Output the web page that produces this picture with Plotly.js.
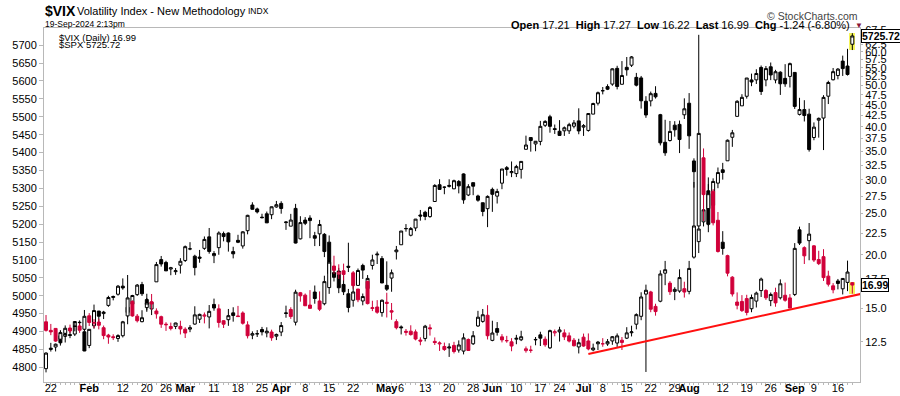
<!DOCTYPE html>
<html><head><meta charset="utf-8">
<script src="https://cdn.plot.ly/plotly-3.0.1.min.js"></script>
<style>html,body{margin:0;padding:0;background:#fff}#chart{width:900px;height:396px}</style>
</head><body><div id="chart"></div>
<script>
// ---- trading days (categories) ----
const dates = [
'2024-01-19','2024-01-22','2024-01-23','2024-01-24','2024-01-25','2024-01-26','2024-01-29','2024-01-30','2024-01-31','2024-02-01',
'2024-02-02','2024-02-05','2024-02-06','2024-02-07','2024-02-08','2024-02-09','2024-02-12','2024-02-13','2024-02-14','2024-02-15',
'2024-02-16','2024-02-20','2024-02-21','2024-02-22','2024-02-23','2024-02-26','2024-02-27','2024-02-28','2024-02-29','2024-03-01',
'2024-03-04','2024-03-05','2024-03-06','2024-03-07','2024-03-08','2024-03-11','2024-03-12','2024-03-13','2024-03-14','2024-03-15',
'2024-03-18','2024-03-19','2024-03-20','2024-03-21','2024-03-22','2024-03-25','2024-03-26','2024-03-27','2024-03-28','2024-04-01',
'2024-04-02','2024-04-03','2024-04-04','2024-04-05','2024-04-08','2024-04-09','2024-04-10','2024-04-11','2024-04-12','2024-04-15',
'2024-04-16','2024-04-17','2024-04-18','2024-04-19','2024-04-22','2024-04-23','2024-04-24','2024-04-25','2024-04-26','2024-04-29',
'2024-04-30','2024-05-01','2024-05-02','2024-05-03','2024-05-06','2024-05-07','2024-05-08','2024-05-09','2024-05-10','2024-05-13',
'2024-05-14','2024-05-15','2024-05-16','2024-05-17','2024-05-20','2024-05-21','2024-05-22','2024-05-23','2024-05-24','2024-05-28',
'2024-05-29','2024-05-30','2024-05-31','2024-06-03','2024-06-04','2024-06-05','2024-06-06','2024-06-07','2024-06-10','2024-06-11',
'2024-06-12','2024-06-13','2024-06-14','2024-06-17','2024-06-18','2024-06-20','2024-06-21','2024-06-24','2024-06-25','2024-06-26',
'2024-06-27','2024-06-28','2024-07-01','2024-07-02','2024-07-03','2024-07-05','2024-07-08','2024-07-09','2024-07-10','2024-07-11',
'2024-07-12','2024-07-15','2024-07-16','2024-07-17','2024-07-18','2024-07-19','2024-07-22','2024-07-23','2024-07-24','2024-07-25',
'2024-07-26','2024-07-29','2024-07-30','2024-07-31','2024-08-01','2024-08-02','2024-08-05','2024-08-06','2024-08-07','2024-08-08',
'2024-08-09','2024-08-12','2024-08-13','2024-08-14','2024-08-15','2024-08-16','2024-08-19','2024-08-20','2024-08-21','2024-08-22',
'2024-08-23','2024-08-26','2024-08-27','2024-08-28','2024-08-29','2024-08-30','2024-09-03','2024-09-04','2024-09-05','2024-09-06',
'2024-09-09','2024-09-10','2024-09-11','2024-09-12','2024-09-13','2024-09-16','2024-09-17','2024-09-18','2024-09-19'];

// ---- $SPX daily OHLC ----
const spxOpen = [
4796.28,4853.42,4856.80,4888.56,4886.66,4888.91,4892.95,4925.89,4899.19,4861.11,
4916.06,4957.19,4950.16,4973.05,4995.16,5004.17,5026.83,4967.94,4976.44,5003.14,
5031.13,4989.32,4963.03,5038.83,5100.92,5093.00,5074.60,5067.20,5085.36,5098.51,
5130.99,5110.52,5108.03,5132.38,5164.46,5111.96,5134.30,5173.49,5175.14,5123.31,
5154.77,5139.09,5181.69,5253.43,5242.48,5219.52,5228.85,5226.31,5248.03,5257.97,
5204.29,5194.37,5244.05,5158.95,5211.37,5217.03,5167.88,5172.95,5171.51,5149.67,
5064.59,5068.97,5031.52,5005.44,4987.33,5028.85,5084.65,5019.88,5084.65,5114.13,
5103.78,5029.03,5049.32,5122.78,5142.42,5187.20,5168.98,5189.31,5225.49,5233.08,
5221.10,5263.26,5310.07,5303.10,5305.35,5298.69,5319.28,5340.26,5281.45,5315.91,
5278.73,5259.77,5243.21,5297.15,5278.24,5314.48,5357.80,5343.81,5341.22,5353.00,
5409.13,5441.93,5424.08,5431.11,5476.15,5499.99,5466.77,5459.58,5460.73,5460.71,
5473.59,5488.48,5471.08,5461.84,5507.44,5537.91,5572.75,5584.24,5591.26,5635.21,
5590.76,5638.16,5644.09,5610.07,5608.56,5543.37,5544.43,5565.30,5505.84,5428.70,
5433.67,5476.55,5478.73,5505.59,5537.84,5376.63,5151.14,5206.42,5293.13,5252.57,
5314.66,5351.88,5376.98,5442.79,5501.13,5530.50,5557.23,5602.88,5603.09,5637.77,
5602.98,5639.66,5602.89,5624.51,5607.30,5612.74,5623.89,5506.68,5520.08,5507.33,
5442.07,5490.51,5496.42,5557.48,5603.34,5615.21,5655.51,5641.68,5702.63];
const spxHigh = [
4842.07,4868.41,4866.48,4903.68,4898.15,4906.69,4929.31,4931.09,4906.75,4906.97,
4975.29,4957.19,4957.77,4999.89,5000.40,5030.06,5048.39,4971.30,5002.52,5032.72,
5038.70,4993.71,4983.21,5094.39,5111.06,5097.66,5080.69,5077.37,5104.99,5140.33,
5149.67,5114.54,5127.97,5165.62,5189.26,5124.66,5179.87,5179.14,5176.85,5136.86,
5170.28,5180.31,5226.19,5261.10,5246.09,5229.09,5235.16,5249.26,5264.85,5263.95,
5208.34,5228.75,5256.59,5222.18,5219.57,5224.81,5178.43,5211.78,5175.03,5168.43,
5079.84,5077.96,5056.66,5019.02,5038.84,5076.12,5089.48,5057.75,5114.62,5123.49,
5110.83,5096.12,5073.21,5139.12,5181.00,5200.23,5191.95,5214.53,5239.66,5237.26,
5250.37,5311.76,5325.49,5305.45,5325.32,5324.32,5323.18,5341.88,5311.65,5315.91,
5282.27,5260.21,5280.33,5302.11,5298.80,5354.16,5362.35,5375.08,5365.79,5375.95,
5447.25,5441.93,5432.39,5488.50,5490.38,5505.53,5478.31,5490.66,5472.88,5483.14,
5490.81,5523.64,5479.55,5509.69,5539.27,5570.33,5583.11,5590.75,5635.39,5642.45,
5655.56,5666.94,5669.67,5622.49,5614.05,5557.50,5570.36,5585.34,5508.04,5491.59,
5488.32,5487.74,5489.46,5551.51,5566.16,5383.89,5250.89,5312.34,5330.64,5328.03,
5358.27,5371.20,5436.50,5463.22,5546.23,5563.07,5608.30,5620.51,5632.68,5643.22,
5641.82,5651.62,5631.18,5627.03,5646.95,5651.37,5623.89,5552.99,5546.30,5522.47,
5484.20,5497.91,5560.41,5600.71,5636.27,5636.05,5670.81,5689.75,5733.57];
const spxLow = [
4785.87,4844.05,4844.37,4865.94,4869.34,4881.47,4887.40,4916.27,4845.15,4853.52,
4907.99,4918.09,4934.88,4969.05,4987.09,5000.34,5016.83,4920.31,4956.45,4999.44,
4999.52,4955.02,4946.00,5038.83,5081.46,5068.91,5057.29,5058.35,5061.89,5094.16,
5127.18,5056.82,5092.22,5128.21,5117.50,5091.14,5114.48,5151.88,5123.30,5104.35,
5146.96,5131.59,5171.55,5240.66,5229.87,5216.09,5203.42,5213.92,5245.82,5229.20,
5184.05,5194.37,5146.06,5157.21,5197.35,5160.78,5138.70,5138.77,5107.94,5052.47,
5039.83,5007.25,5001.89,4953.56,4969.40,5027.96,5047.02,4990.58,5073.14,5088.65,
5035.31,5013.45,5011.05,5101.22,5142.42,5178.96,5165.86,5180.41,5209.68,5211.16,
5217.98,5263.26,5296.19,5283.59,5302.40,5297.87,5286.01,5256.93,5278.39,5280.89,
5262.70,5222.10,5191.68,5234.32,5257.63,5297.64,5335.36,5331.33,5331.52,5327.25,
5409.13,5402.51,5403.75,5420.40,5471.32,5455.56,5452.03,5446.56,5446.56,5451.87,
5467.54,5451.12,5446.53,5458.43,5507.42,5531.63,5562.51,5574.57,5586.44,5576.53,
5590.44,5614.75,5639.02,5584.81,5522.81,5497.04,5529.04,5550.90,5419.98,5390.95,
5430.70,5444.44,5398.58,5493.75,5410.42,5302.03,5119.26,5193.56,5195.54,5233.85,
5300.44,5324.37,5376.98,5415.97,5501.13,5530.50,5550.74,5585.50,5591.57,5560.95,
5585.16,5602.34,5593.48,5560.95,5583.71,5581.79,5521.85,5503.66,5486.85,5402.62,
5434.49,5441.72,5406.96,5535.50,5601.65,5604.53,5614.05,5615.08,5686.42];
const spxClose = [
4839.81,4850.43,4864.60,4868.55,4894.16,4890.97,4927.93,4924.97,4845.65,4906.19,
4958.61,4942.81,4954.23,4995.06,4997.91,5026.61,5021.84,4953.17,5000.62,5029.73,
5005.57,4975.51,4981.80,5087.03,5088.80,5069.53,5078.18,5069.76,5096.27,5137.08,
5130.95,5078.65,5104.76,5157.36,5123.69,5117.94,5175.27,5165.31,5150.48,5117.09,
5149.42,5178.51,5224.62,5241.53,5234.18,5218.19,5203.58,5248.49,5254.35,5243.77,
5205.81,5211.49,5147.21,5204.34,5202.39,5209.91,5160.64,5199.06,5123.41,5061.82,
5051.41,5022.21,5011.12,4967.23,5010.60,5070.55,5071.63,5048.42,5099.96,5116.17,
5035.69,5018.39,5064.20,5127.79,5180.74,5187.70,5187.67,5214.08,5222.68,5221.42,
5246.68,5308.15,5297.10,5303.27,5308.13,5321.41,5307.01,5267.84,5304.72,5306.04,
5266.95,5235.48,5277.51,5283.40,5291.34,5354.03,5352.96,5346.99,5360.79,5375.32,
5421.03,5433.74,5431.60,5473.23,5487.03,5473.17,5464.62,5447.87,5469.30,5477.90,
5482.87,5460.48,5475.09,5509.01,5537.02,5567.19,5572.85,5576.98,5633.91,5584.54,
5615.35,5631.22,5667.20,5588.27,5544.59,5505.00,5564.41,5555.74,5427.13,5399.22,
5459.10,5463.54,5436.44,5522.30,5446.68,5346.56,5186.33,5240.03,5199.50,5319.31,
5344.16,5344.39,5434.43,5455.21,5543.22,5554.25,5608.25,5597.12,5620.85,5570.64,
5634.61,5616.84,5625.80,5592.18,5591.96,5648.40,5528.93,5520.07,5503.41,5408.42,
5471.05,5495.52,5554.13,5595.76,5626.02,5633.09,5634.58,5618.26,5725.72];

// ---- $VIX daily OHLC ----
const vixPrevClose = 14.13; // close before the first bar
const vixOpen = [
13.93,13.30,13.44,12.68,13.09,13.47,13.59,13.62,13.38,14.39,
13.86,13.91,13.49,12.96,12.85,12.73,12.92,14.38,15.55,14.36,
13.94,15.04,15.52,14.77,14.32,13.70,13.58,13.59,13.59,13.38,
13.39,13.76,14.13,14.36,14.30,15.30,14.94,14.01,14.09,14.62,
14.38,14.61,13.70,12.96,13.05,13.36,13.12,13.18,12.89,13.18,
14.57,14.89,13.90,16.30,16.09,15.25,16.36,15.59,15.36,16.76,
18.83,18.02,18.35,18.81,18.15,16.63,15.59,17.33,14.97,15.09,
14.64,15.48,14.79,13.94,13.55,13.15,13.24,13.19,12.62,12.73,
13.48,12.53,12.36,12.19,12.09,12.26,11.96,11.89,12.66,12.37,
13.62,13.96,14.43,12.60,13.43,12.84,12.58,12.50,12.68,12.64,
11.92,11.95,12.63,12.98,12.68,12.10,13.12,13.19,13.12,12.91,
12.61,12.16,12.82,12.56,11.97,12.37,12.37,12.36,12.56,12.42,
12.61,12.75,13.13,13.75,14.35,16.18,16.37,15.14,15.57,18.12,
17.17,16.42,16.45,16.66,16.42,19.76,23.39,33.80,25.69,28.22,
24.12,21.42,19.92,17.73,15.50,15.55,15.79,14.95,15.58,16.49,
16.50,15.62,16.31,15.86,16.08,15.85,16.15,22.90,20.80,21.60,
21.00,19.51,19.81,17.83,16.92,17.37,16.65,17.24,17.21];
const vixHigh = [
14.45,13.77,13.44,13.27,13.66,13.72,13.91,13.80,14.85,14.60,
14.13,14.15,13.65,13.05,13.02,13.02,14.00,17.94,15.65,14.53,
14.83,16.21,16.19,14.98,14.40,13.90,13.87,13.86,14.01,13.52,
13.68,15.15,14.56,14.65,15.25,15.79,15.31,14.05,14.93,15.07,
15.18,14.74,13.97,13.23,13.32,13.55,13.52,13.35,13.07,13.91,
15.20,15.07,16.57,16.37,16.23,16.53,16.95,16.42,17.87,19.28,
19.91,19.01,19.08,21.36,18.33,16.63,16.23,17.40,15.61,15.66,
15.72,16.30,15.42,14.12,13.66,13.40,13.67,13.36,12.81,13.70,
13.74,12.80,12.53,12.45,12.40,12.50,12.60,13.09,12.73,13.25,
14.78,14.93,15.24,14.01,13.91,13.03,12.91,12.75,12.98,13.27,
12.19,12.24,12.83,13.20,12.87,13.35,13.36,13.56,13.37,13.15,
12.76,12.71,13.07,13.08,12.38,12.56,12.75,12.69,12.90,13.08,
12.83,13.53,13.64,14.58,16.34,17.03,16.47,15.36,18.40,19.36,
17.36,16.79,18.50,17.30,19.36,29.66,65.73,35.56,29.32,28.54,
25.22,22.74,20.02,17.83,16.33,16.09,16.12,16.14,16.40,17.69,
16.62,16.32,16.75,17.52,17.22,16.18,21.32,23.30,20.95,23.76,
21.09,20.45,20.63,18.36,17.17,17.56,17.50,19.39,17.27];
const vixLow = [
13.21,12.96,12.49,12.25,12.83,13.10,13.23,13.12,13.30,13.62,
13.46,13.37,12.68,12.37,12.62,12.50,12.80,14.26,14.32,13.88,
13.89,14.82,14.86,14.17,13.48,13.26,13.30,13.39,13.01,12.76,
13.17,13.71,13.84,13.81,13.44,14.79,13.50,13.47,13.63,13.94,
14.30,13.72,12.73,12.68,12.83,12.94,12.81,12.57,12.62,12.89,
14.24,14.15,13.66,15.53,15.19,14.98,15.36,14.76,15.23,16.20,
18.06,17.56,17.42,18.23,16.65,15.49,15.23,15.30,14.76,14.55,
14.32,14.26,14.08,13.37,13.01,12.93,12.93,12.60,12.27,12.53,
12.93,12.29,11.90,11.90,11.52,11.74,11.79,11.68,11.90,12.29,
13.55,13.86,12.66,12.54,12.93,12.46,12.44,11.88,12.34,12.55,
11.79,11.78,12.27,12.22,12.17,12.03,12.88,12.52,12.62,12.46,
12.19,11.74,12.17,11.94,11.88,11.96,12.17,12.23,12.30,12.16,
11.96,12.69,12.87,13.37,14.05,10.62,14.67,14.40,15.48,16.98,
16.11,15.66,16.30,15.88,16.16,19.60,23.39,24.02,22.61,23.46,
20.25,20.02,17.81,15.97,14.90,14.69,14.42,14.67,15.05,15.93,
15.68,15.16,15.11,15.72,15.53,14.99,16.01,21.10,19.04,19.43,
19.25,18.93,17.37,16.86,16.25,16.60,16.15,16.44,16.22];
const vixClose = [
13.30,13.19,12.55,13.14,13.45,13.26,13.60,13.31,14.35,13.88,
13.85,13.67,12.93,12.83,12.79,12.93,13.93,15.85,14.38,14.01,
14.24,15.42,15.34,14.54,13.75,13.74,13.43,13.84,13.40,13.11,
13.49,14.46,14.50,14.44,14.74,15.01,13.88,13.75,14.40,14.41,
14.33,13.82,12.92,13.06,13.06,13.19,13.24,12.78,13.01,13.65,
14.61,14.33,16.35,16.03,15.19,14.98,15.80,14.91,17.31,19.23,
18.40,18.21,18.00,18.71,16.94,15.69,15.97,15.37,15.03,14.67,
15.65,15.39,14.68,13.49,13.49,13.23,13.00,12.69,12.55,13.60,
13.42,12.45,12.42,11.99,12.15,11.86,12.29,12.77,11.93,12.92,
14.28,14.47,12.92,13.11,13.16,12.63,12.58,12.22,12.74,12.85,
12.04,11.94,12.66,12.75,12.30,13.28,13.20,13.33,12.84,12.55,
12.24,12.44,12.22,12.03,12.09,12.48,12.37,12.51,12.85,12.91,
12.46,13.12,13.19,14.48,15.93,16.52,14.91,14.72,18.04,18.46,
16.39,16.60,17.69,16.36,18.59,23.39,38.57,27.71,27.85,23.79,
20.37,20.71,18.12,16.19,15.23,14.80,14.65,15.88,16.27,17.55,
15.86,16.15,15.43,17.11,15.65,15.00,20.72,21.32,19.90,22.38,
19.45,19.08,17.69,17.07,16.56,17.14,17.61,18.23,16.99];

// ---- drawn trendline on $VIX (anchor points) ----
const trendDates = ['2024-07-02', '2024-09-19'];
const trendValues = [11.71, 16.03];

// ---- axis ticks ----
const xTickDates = ['2024-01-22','2024-02-01','2024-02-12','2024-02-20','2024-02-26','2024-03-01','2024-03-11','2024-03-18','2024-03-25',
  '2024-04-01','2024-04-08','2024-04-15','2024-04-22','2024-05-01','2024-05-06','2024-05-13','2024-05-20','2024-05-28','2024-06-03',
  '2024-06-10','2024-06-17','2024-06-24','2024-07-01','2024-07-08','2024-07-15','2024-07-22','2024-07-29','2024-08-01','2024-08-12',
  '2024-08-19','2024-08-26','2024-09-03','2024-09-09','2024-09-16'];
const xTickLabels = ['22','<b>Feb</b>','12','20','26','<b>Mar</b>','11','18','25','<b>Apr</b>','8','15','22','<b>May</b>','6','13','20','28',
  '<b>Jun</b>','10','17','24','<b>Jul</b>','8','15','22','29','<b>Aug</b>','12','19','26','<b>Sep</b>','9','16'];
const spxTicks = [4800,4850,4900,4950,5000,5050,5100,5150,5200,5250,5300,5350,5400,5450,5500,5550,5600,5650,5700];
const vixTicks = [12.5,15,17.5,20,22.5,25,27.5,30,32.5,35,37.5,40,42.5,45,47.5,50,52.5,55,57.5,60,62.5,67.5];
const vixTickLabels = ['12.5','15.0','17.5','20.0','22.5','25.0','27.5','30.0','32.5','35.0','37.5','40.0','42.5','45.0','47.5','50.0','52.5','55.0','57.5','60.0','62.5','67.5'];

// ---- build ----
const RED = '#d0003a', BLACK = '#000000', FONT = 'Liberation Sans, Arial, sans-serif';
const n = dates.length, last = n - 1;
function pick(arr, idx) { return idx.map(i => arr[i]); }

const redIdx = [], blackIdx = [];
for (let i = 0; i < n; i++) {
  const prev = i === 0 ? vixPrevClose : vixClose[i - 1];
  (vixClose[i] < prev ? redIdx : blackIdx).push(i);
}
function candle(idx, o, h, l, c, color, yaxis) {
  return {
    type: 'candlestick', x: pick(dates, idx), open: pick(o, idx), high: pick(h, idx), low: pick(l, idx), close: pick(c, idx),
    xaxis: 'x', yaxis: yaxis, whiskerwidth: 0, hoverinfo: 'skip', showlegend: false,
    increasing: { line: { color: color, width: 1 }, fillcolor: '#ffffff' },
    decreasing: { line: { color: color, width: 1 }, fillcolor: color }
  };
}
const allIdx = dates.map((d, i) => i);

const traces = [];
traces.push(candle(allIdx, spxOpen, spxHigh, spxLow, spxClose, BLACK, 'y'));
// yellow highlight of the latest bars
traces.push({ type: 'bar', x: [dates[last]], base: [spxLow[last]], y: [spxHigh[last] - spxLow[last]], width: 1.3,
  marker: { color: '#f5f55a', line: { width: 0 } }, yaxis: 'y', hoverinfo: 'skip', showlegend: false });
traces.push({ type: 'bar', x: [dates[last]], base: [vixLow[last]], y: [vixHigh[last] - vixLow[last]], width: 1.3,
  marker: { color: '#f5f55a', line: { width: 0 } }, yaxis: 'y2', hoverinfo: 'skip', showlegend: false });
traces.push(candle(blackIdx, vixOpen, vixHigh, vixLow, vixClose, BLACK, 'y2'));
traces.push(candle(redIdx, vixOpen, vixHigh, vixLow, vixClose, RED, 'y2'));

// trendline (straight on the log axis), extended to the right edge
const ti0 = dates.indexOf(trendDates[0]), ti1 = dates.indexOf(trendDates[1]);
const lg0 = Math.log10(trendValues[0]), lg1 = Math.log10(trendValues[1]);
const tEnd = n + 4;
const vEnd = Math.pow(10, lg0 + (lg1 - lg0) * (tEnd - ti0) / (ti1 - ti0));
traces.push({ type: 'scatter', mode: 'lines', x: [ti0, tEnd], y: [trendValues[0], vEnd], xaxis: 'x2', yaxis: 'y2',
  line: { color: '#ff1010', width: 2 }, hoverinfo: 'skip', showlegend: false });

const xRange = [-0.42, n + 0.6];
const tickText = dates.map(d => { const k = xTickDates.indexOf(d); return k >= 0 ? xTickLabels[k] : ''; });

const W = 816, H = 354, L = 44, T = 28;
const px = x => (x - L) / W, py = y => (T + H - y) / H;

const chg = vixClose[last] - vixClose[last - 1];
const chgPct = chg / vixClose[last - 1] * 100;

const annotations = [
  { text: '<b>$VIX</b>', x: px(43), y: py(11), xanchor: 'left', yanchor: 'middle', font: { size: 14, color: '#000' } },
  { text: 'Volatility Index - New Methodology', x: px(75), y: py(11), xanchor: 'left', yanchor: 'middle', font: { size: 11, color: '#000' } },
  { text: 'INDX', x: px(246), y: py(11.5), xanchor: 'left', yanchor: 'middle', font: { size: 8.5, color: '#000' } },
  { text: '19-Sep-2024 2:13pm', x: px(43), y: py(24), xanchor: 'left', yanchor: 'middle', font: { size: 8.5, color: '#000' } },
  { text: '\u00a9 StockCharts.com', x: px(860), y: py(16), xanchor: 'right', yanchor: 'middle', font: { size: 10.5, color: '#444' } },
  { text: '<b>Open</b> ' + vixOpen[last].toFixed(2) + '  <b>High</b> ' + vixHigh[last].toFixed(2) + '  <b>Low</b> ' + vixLow[last].toFixed(2) +
      '  <b>Last</b> ' + vixClose[last].toFixed(2) + '  <b>Chg</b> ' + chg.toFixed(2) + ' (' + chgPct.toFixed(2) + '%)',
    x: px(852), y: py(25), xanchor: 'right', yanchor: 'middle', font: { size: 11, color: '#000' } },
  { text: '\u25BC', x: px(853), y: py(25), xanchor: 'left', yanchor: 'middle', font: { size: 8, color: '#8a1538' } },
  { text: '$VIX (Daily) ' + vixClose[last].toFixed(2), x: px(57), y: py(37), xanchor: 'left', yanchor: 'middle', font: { size: 9.5, color: '#000' } },
  { text: '$SPX ' + spxClose[last].toFixed(2), x: px(57), y: py(45), xanchor: 'left', yanchor: 'middle', font: { size: 9.5, color: '#000' } },
  { text: '<b>' + spxClose[last].toFixed(2) + '</b>', xref: 'paper', yref: 'y', x: px(861), y: spxClose[last], xanchor: 'left', yanchor: 'middle',
    font: { size: 10.5, color: '#000' }, bgcolor: '#fff', bordercolor: '#000', borderwidth: 1, borderpad: 0 },
  { text: '<b>' + vixClose[last].toFixed(2) + '</b>', xref: 'paper', yref: 'y2', x: px(861), y: Math.log10(vixClose[last]), xanchor: 'left', yanchor: 'middle',
    font: { size: 10.5, color: '#000' }, bgcolor: '#fff', bordercolor: '#000', borderwidth: 1, borderpad: 0 }
].map(a => Object.assign({ xref: 'paper', yref: 'paper', showarrow: false }, a));

const axisColor = '#b8b8b8';
const layout = {
  width: 900, height: 396,
  margin: { l: L, r: 900 - L - W, t: T, b: 396 - T - H },
  paper_bgcolor: '#fff', plot_bgcolor: '#fff',
  font: { family: FONT, size: 11, color: '#000' },
  showlegend: false, hovermode: false, dragmode: false,
  bargap: 0, barmode: 'overlay', boxgap: 0.12,
  xaxis: {
    type: 'category', categoryorder: 'array', categoryarray: dates,
    range: xRange, tickmode: 'array', tickvals: dates, ticktext: tickText, tickangle: 0,
    ticks: 'outside', ticklen: 2, tickcolor: axisColor, ticklabelstandoff: -6, showgrid: false, zeroline: false,
    showline: true, linecolor: axisColor, linewidth: 1, mirror: true,
    rangeslider: { visible: false }, tickfont: { size: 11, color: '#000' }, fixedrange: true
  },
  xaxis2: { type: 'linear', overlaying: 'x', range: xRange, visible: false, fixedrange: true },
  yaxis: {
    range: [4759, 5748], tickmode: 'array', tickvals: spxTicks, ticks: 'outside', ticklen: 4, tickcolor: axisColor,
    showgrid: false, zeroline: false, showline: true, linecolor: axisColor, mirror: true,
    tickfont: { size: 11, color: '#000' }, fixedrange: true
  },
  yaxis2: {
    type: 'log', overlaying: 'y', side: 'right', range: [Math.log10(10.06), Math.log10(68.2)],
    tickmode: 'array', tickvals: vixTicks, ticktext: vixTickLabels, ticks: 'outside', ticklen: 2, tickcolor: axisColor,
    showgrid: false, zeroline: false, showline: true, linecolor: axisColor,
    tickfont: { size: 11, color: '#000' }, fixedrange: true
  },
  annotations: annotations
};

Plotly.newPlot('chart', traces, layout, { staticPlot: true, displayModeBar: false });
</script>
</body></html>
